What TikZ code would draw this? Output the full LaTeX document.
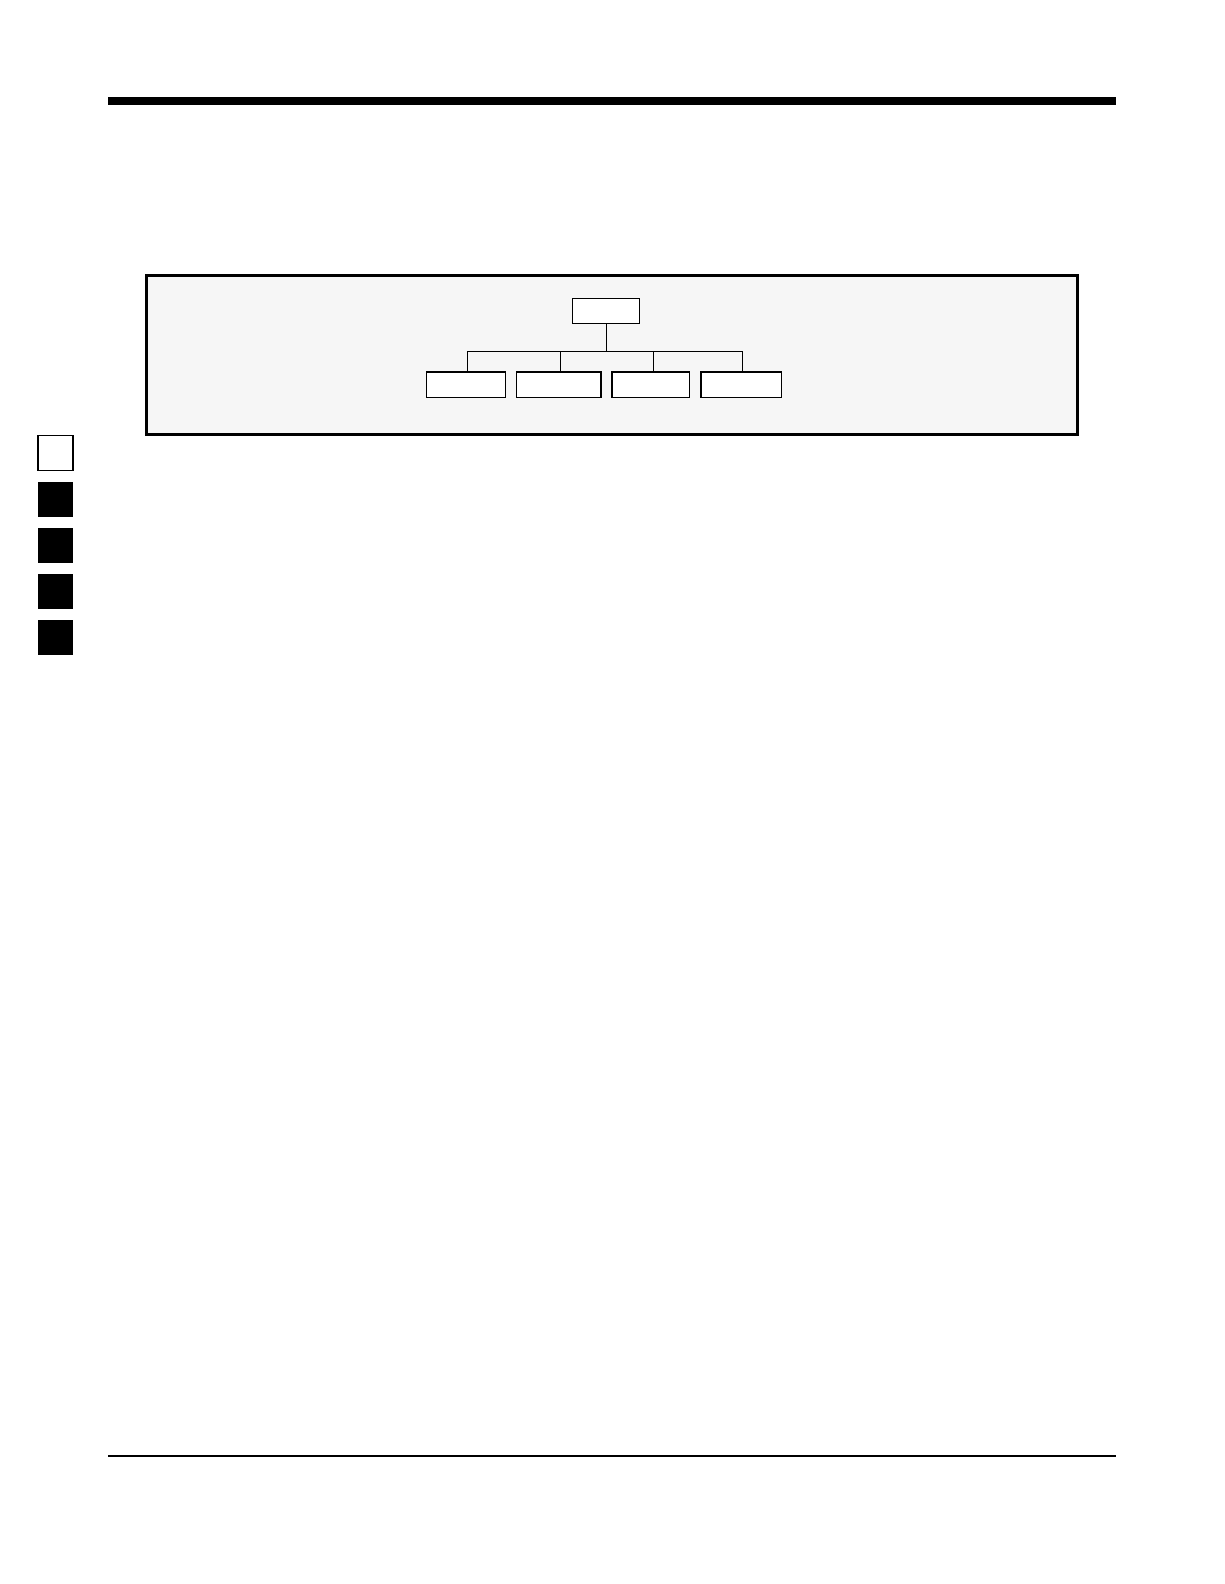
\documentclass[tikz,border=0pt]{standalone}
\definecolor{panelgray}{HTML}{F6F6F6}
\begin{document}
\begin{tikzpicture}[x=1pt,y=-1pt,
  treebox/.style={draw=black,fill=white,line width=1.2pt,rectangle,inner sep=0pt,minimum height=25.8pt},
  treeline/.style={draw=black,line width=1.2pt},
  tab/.style={rectangle,inner sep=0pt,minimum width=35pt,minimum height=35pt,line width=1.3pt}]
\useasboundingbox (0,0) rectangle (1224,1584);
% header bar and footer rule
\fill[black] (108,97) rectangle (1116,105);
\draw[line width=1.4pt] (108,1456) -- (1116,1456);
% panel
\node[draw=black,fill=panelgray,line width=3pt,rectangle,inner sep=0pt,
  minimum width=931pt,minimum height=159pt] (panel) at (611.8,354.5) {};
% tree
\node[treebox,minimum width=67pt,minimum height=25pt] (top) at (606,311.2) {};
\node[treebox,minimum width=78.5pt] (b1) at (465.9,384.8) {};
\node[treebox,minimum width=84.8pt] (b2) at (558.5,384.8) {};
\node[treebox,minimum width=77.8pt] (b3) at (650.8,384.8) {};
\node[treebox,minimum width=80.2pt] (b4) at (741.0,384.8) {};
\coordinate (bus) at (606.5,351.7);
\draw[treeline] (top.south -| bus) -- (bus);
\draw[treeline] ([xshift=1.4pt]b1.north) |- (bus) -| ([xshift=1.3pt]b4.north);
\draw[treeline] ([xshift=1.8pt]b2.north) -- ([xshift=1.8pt]b2.north |- bus);
\draw[treeline] ([xshift=2.5pt]b3.north) -- ([xshift=2.5pt]b3.north |- bus);
% side tabs
\node[tab,draw=black,fill=white] (t1) at (55.5,453.3) {};
\node[tab,fill=black] (t2) at (55.5,499.3) {};
\node[tab,fill=black] (t3) at (55.5,545.3) {};
\node[tab,fill=black] (t4) at (55.5,591.5) {};
\node[tab,fill=black] (t5) at (55.5,637.5) {};
\end{tikzpicture}
\end{document}
